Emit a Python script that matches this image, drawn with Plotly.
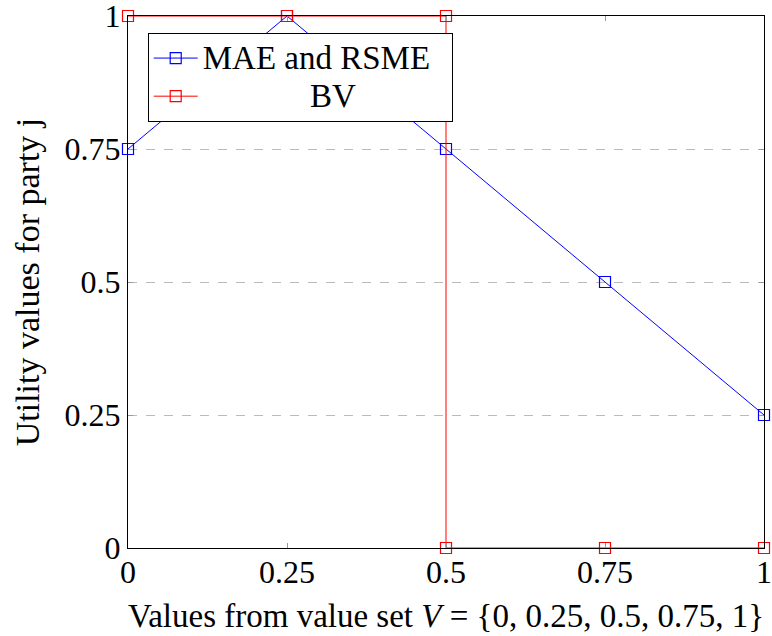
import plotly.graph_objects as go

# Data
mae_x = [0, 0.25, 0.5, 0.75, 1]
mae_y = [0.75, 1, 0.75, 0.5, 0.25]
bv_x = [0, 0.25, 0.5, 0.5, 0.75, 1]
bv_y = [1, 1, 1, 0, 0, 0]
tick_vals = [0, 0.25, 0.5, 0.75, 1]
tick_text = ["0", "0.25", "0.5", "0.75", "1"]
series_names = ["MAE and RSME", "BV"]

FONT = "Liberation Serif"
LEG_BIG = '<span style="font-size:33px">{}</span>'

fig = go.Figure()
fig.add_trace(go.Scatter(
    x=mae_x, y=mae_y, mode="lines+markers",
    name=LEG_BIG.format(series_names[0] + "\u00a0" * 2),
    line=dict(color="#0000ff", width=1),
    marker=dict(symbol="square-open", size=11, color="#0000ff", line=dict(width=1.2)),
    cliponaxis=False,
))
fig.add_trace(go.Scatter(
    x=bv_x, y=bv_y, mode="lines+markers",
    name=LEG_BIG.format("\u00a0" * 13 + series_names[1]),
    line=dict(color="#ff0000", width=1),
    marker=dict(symbol="square-open", size=11, color="#ff0000", line=dict(width=1.2)),
    cliponaxis=False,
))

axis_common = dict(
    range=[0, 1], tickvals=tick_vals, ticktext=tick_text,
    showline=True, linecolor="black", linewidth=1, mirror="ticks",
    ticks="inside", ticklen=5, tickcolor="#999999", tickwidth=1,
    zeroline=False, automargin=False, ticklabeloverflow="allow",
    tickfont=dict(family=FONT, size=32, color="black"),
)

fig.update_xaxes(
    **axis_common, showgrid=False, ticklabelstandoff=-4,
    title=dict(text="Values from value set <i>V</i> = {0, 0.25, 0.5, 0.75, 1}",
               font=dict(family=FONT, size=33, color="black"), standoff=14),
)
fig.update_yaxes(
    **axis_common, showgrid=True, gridcolor="#bbbbbb", griddash="dash", gridwidth=1,
    title=dict(text="Utility values for party j",
               font=dict(family=FONT, size=34, color="black"), standoff=14),
)

fig.update_layout(
    width=772, height=636,
    margin=dict(l=128, r=8, t=16, b=88),
    paper_bgcolor="white", plot_bgcolor="white",
    font=dict(family=FONT, size=32, color="black"),
    showlegend=True,
    legend=dict(
        x=0.031, y=0.968, xanchor="left", yanchor="top",
        bgcolor="white", bordercolor="black", borderwidth=1,
        font=dict(family=FONT, size=27, color="black"),
        tracegroupgap=0, itemwidth=44,
    ),
)

fig.write_html(
    "out.html",
    config={"displayModeBar": False},
    post_script="document.body.style.margin='0';document.body.style.overflow='hidden';",
)
